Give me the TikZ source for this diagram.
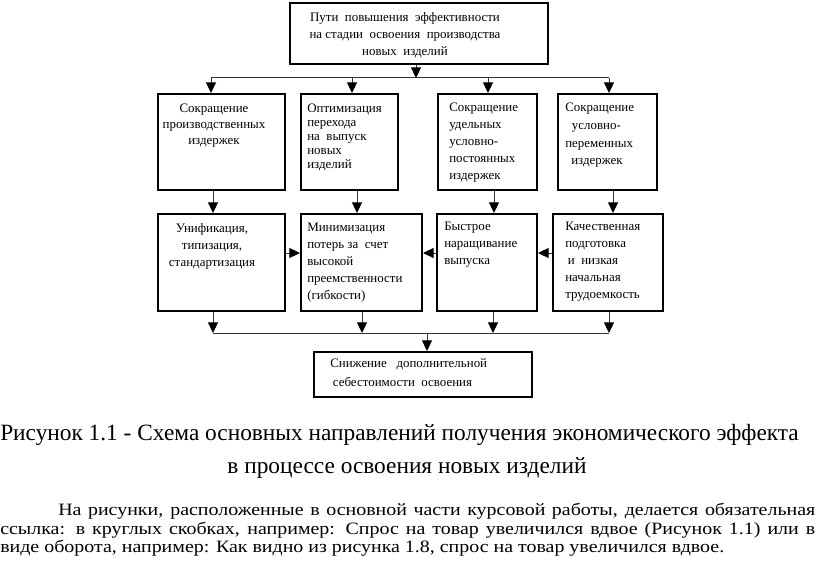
\documentclass[tikz,border=0pt]{standalone}
\usepackage{fontspec}
\setmainfont{Liberation Serif}
\newfontfamily\parfont[FakeStretch=1.15]{Liberation Serif}
\usetikzlibrary{arrows.meta,positioning,fit}

\tikzset{
  box/.style={draw, line width=1.5pt, inner sep=0pt},
  txt/.style={anchor=north west, inner sep=0pt, align=left,
    font=\fontsize{9.7}{#1}\selectfont},
  txt/.default=12.75,
  ctxt/.style={txt=#1, anchor=north, align=center},
  wire/.style={line width=0.75pt, draw=black!80},
  arr/.style={wire, -{Triangle[width=7.5pt,length=8pt,black]}},
  bigtxt/.style={inner sep=0pt, font=\fontsize{17.5}{20}\selectfont},
  partxt/.style={anchor=base west, inner sep=0pt, font=\parfont\fontsize{13}{15}\selectfont}
}

\begin{document}
\begin{tikzpicture}[x=0.75pt,y=-0.75pt]
  \useasboundingbox (0,0) rectangle (816,570);

  % top box
  \node[box, fit={(290,3) (548,64)}] (top) {};
  \node[ctxt=12.75] (topT) at (405,12)
    {Пути\ \ повышения\ \ эффективности\\на стадии\ \ освоения\ \ производства\\новых\ \ изделий};

  % row 1
  \node[box, fit={(158,94) (285,190)}] (p1) {};
  \node[box, fit={(301,94) (398,190)}] (p2) {};
  \node[box, fit={(438,94) (537,190)}] (p3) {};
  \node[box, fit={(558,94) (657,190)}] (p4) {};
  \node[ctxt=12] (p1T) at (214,104) {Сокращение\\производственных\\издержек};
  \node[txt=10.5] (p2T) at (307,104) {Оптимизация\\перехода\\на\ \ выпуск\\новых\\изделий};
  \node[txt=12.75] (p3T) at (449,103) {Сокращение\\удельных\\условно-\\постоянных\\издержек};
  \node[txt=13.2] (p4T) at (565,103)
    {Сокращение\\\hspace*{5pt}условно-\\переменных\\\hspace*{4.5pt}издержек};

  % row 2
  \node[box, fit={(158,214) (285,311)}] (q1) {};
  \node[box, fit={(301,214) (422,311)}] (q2) {};
  \node[box, fit={(437,214) (537,311)}] (q3) {};
  \node[box, fit={(553,214) (663,311)}] (q4) {};
  \node[ctxt=12.75] (q1T) at (212,223) {Унификация,\\типизация,\\стандартизация};
  \node[txt=12.75] (q2T) at (307,223)
    {Минимизация\\потерь за\ \ счет\\высокой\\преемственности\\(гибкости)};
  \node[txt=12.75] (q3T) at (444,222) {Быстрое\\наращивание\\выпуска};
  \node[txt=12.75] (q4T) at (565,222)
    {Качественная\\подготовка\\\hspace*{2pt}и\ \ низкая\\начальная\\трудоемкость};

  % result box
  \node[box, fit={(314,352) (532,397)}] (res) {};
  \node[txt=14.25] (resT) at (330,358)
    {Снижение\ \ \ дополнительной\\\hspace*{2pt}себестоимости\ \ освоения};

  % top bus
  \coordinate (busT) at (416,78);
  \coordinate (busTl) at (211,78);
  \coordinate (busTr) at (609,78);
  \draw[arr] (top.south -| busT) -- (busT);
  \draw[wire] (busTl) -- (busTr);
  \foreach \n/\x in {p1/211, p2/352, p3/488, p4/609}
    \draw[arr] (\x,78) -- (\n.north -| \x,0);

  % row 1 to row 2
  \foreach \a/\b/\x in {p1/q1/213, p2/q2/357, p3/q3/494, p4/q4/613}
    \draw[arr] (\a.south -| \x,0) -- (\b.north -| \x,0);

  % side arrows
  \draw[arr] (q1.east |- 0,253) -- (q2.west |- 0,253);
  \draw[arr] (q3.west |- 0,253) -- (q2.east |- 0,253);
  \draw[arr] (q4.west |- 0,253) -- (q3.east |- 0,253);

  % bottom bus
  \coordinate (busB) at (427,333);
  \coordinate (busBl) at (213,333);
  \coordinate (busBr) at (609,333);
  \foreach \n/\x in {q1/213, q2/362, q3/493, q4/609}
    \draw[arr] (\n.south -| \x,0) -- (\x,333);
  \draw[wire] (busBl) -- (busBr);
  \draw[arr] (busB) -- (res.north -| busB);

  % caption and text
  \node[bigtxt, anchor=base west] (cap1) at (0,440)
    {Рисунок 1.1 - Схема основных направлений получения экономического эффекта};
  \node[bigtxt, anchor=base] (cap2) at (407,473)
    {в процессе освоения новых изделий};
  \node[partxt] (par1) at (58,515)
    {\makebox[567.75pt][s]{На рисунки, расположенные в основной части курсовой работы, делается обязательная}};
  \node[partxt] (par2) at (0,534)
    {\makebox[611.25pt][s]{ссылка: в круглых скобках, например: Спрос на товар увеличился вдвое (Рисунок 1.1) или в}};
  \node[partxt] (par3) at (0,552)
    {виде оборота, например: Как видно из рисунка 1.8, спрос на товар увеличился вдвое.};
\end{tikzpicture}
\end{document}
